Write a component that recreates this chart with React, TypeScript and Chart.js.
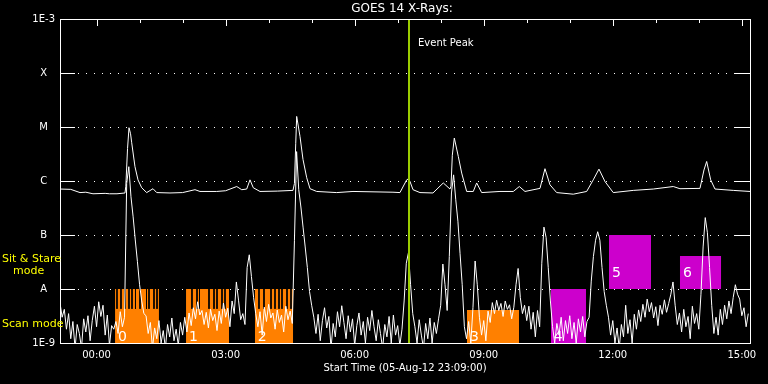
import React, { useEffect, useRef } from "react";
import { Chart, registerables } from "chart.js";

Chart.register(...registerables);

// ---------- text ----------
const chartTitle = "GOES 14 X-Rays:";
const xAxisTitle = "Start Time (05-Aug-12 23:09:00)";
const eventPeakLabel = "Event Peak";
const sitStareLines = ["Sit & Stare", "mode"];
const scanModeLabel = "Scan mode";

// ---------- axes ----------
const xMinHour = -0.85; // 23:09 on 05-Aug
const xMaxHour = 15.19;
const xTickHours = [0, 3, 6, 9, 12, 15];
const xTickLabels = ["00:00", "03:00", "06:00", "09:00", "12:00", "15:00"];
const xMinorTickHours = [0, 1, 2, 3, 4, 5, 6, 7, 8, 9, 10, 11, 12, 13, 14, 15];
const yTickValues = [1e-9, 1e-8, 1e-7, 1e-6, 1e-5, 1e-4, 1e-3];
const yTickLabels = ["1E-9", "A", "B", "C", "M", "X", "1E-3"];

const eventPeakHour = 7.263;

// ---------- 1-8 A channel (W/m^2) ----------
const longHours = [
  -0.85, -0.6, -0.385, -0.25, -0.083, 0.2, 0.3, 0.475, 0.661, 0.68,
  0.72, 0.754, 0.79, 0.817, 0.893, 0.963, 1.049, 1.165, 1.312, 1.398,
  1.707, 2.0, 2.288, 2.404, 2.793, 3.0, 3.258, 3.374, 3.49, 3.567,
  3.643, 3.799, 4.2, 4.566, 4.6, 4.63, 4.652, 4.729, 4.799, 4.885,
  4.962, 5.117, 5.582, 5.961, 6.891, 7.053, 7.209, 7.246, 7.286, 7.356,
  7.518, 7.82, 8.06, 8.216, 8.24, 8.27, 8.316, 8.409, 8.488, 8.604,
  8.757, 8.836, 8.952, 9.378, 9.687, 9.827, 9.959, 10.308, 10.424, 10.54,
  10.696, 11.082, 11.393, 11.546, 11.679, 11.818, 12.011, 12.476, 12.941, 13.406,
  13.562, 14.027, 14.12, 14.183, 14.276, 14.376, 14.801, 15.19,
];
const longFlux = [
  7.1e-7, 7.0e-7, 6.1e-7, 6.2e-7, 5.8e-7, 5.9e-7, 5.8e-7, 5.8e-7, 6.0e-7, 8.0e-7,
  4.0e-6, 9.7e-6, 7.5e-6, 5.1e-6, 1.84e-6, 1.05e-6, 7.5e-7, 6.1e-7, 7.2e-7, 6.1e-7,
  6.0e-7, 6.1e-7, 6.9e-7, 6.4e-7, 6.4e-7, 6.6e-7, 7.9e-7, 6.9e-7, 7.1e-7, 1.05e-6,
  7.5e-7, 6.4e-7, 6.5e-7, 6.7e-7, 9.0e-7, 5.0e-6, 1.57e-5, 6.7e-6, 2.5e-6, 1.15e-6,
  7.2e-7, 6.4e-7, 6.1e-7, 6.4e-7, 6.2e-7, 6.1e-7, 1.05e-6, 1.09e-6, 9.8e-7, 6.9e-7,
  6.1e-7, 6.0e-7, 9.2e-7, 7.1e-7, 8.0e-7, 3.0e-6, 6.25e-6, 2.85e-6, 1.4e-6, 6.4e-7,
  6.4e-7, 9.2e-7, 6.1e-7, 6.4e-7, 6.4e-7, 7.9e-7, 6.4e-7, 7.3e-7, 1.69e-6, 8.5e-7,
  6.1e-7, 5.7e-7, 6.4e-7, 1.05e-6, 1.66e-6, 9.8e-7, 6.1e-7, 6.7e-7, 7.1e-7, 7.9e-7,
  7.2e-7, 7.3e-7, 1.6e-6, 2.3e-6, 1.05e-6, 7.1e-7, 6.7e-7, 6.4e-7,
];

// ---------- 0.5-4 A channel, 3-minute cadence, in nW/m^2 ----------
const shortStartHour = -0.85;
const shortStepHours = 0.05;
const shortFluxNano = [
  5.5, 3.0, 4.2, 1.8, 3.5, 1.2, 2.5, 0.8, 2.2, 1.5,
  0.8, 2.8, 1.6, 3.2, 1.1, 2.6, 4.8, 2.0, 5.8, 3.1,
  5.0, 1.4, 3.3, 0.9, 2.1, 1.8, 2.5, 1.5, 3.8, 2.0,
  3.0, 900, 1840, 510, 217, 81, 32, 12, 6, 3.5,
  3.2, 1.5, 2.4, 0.8, 1.9, 1.2, 2.6, 1.0, 1.7, 0.8,
  2.2, 1.3, 2.9, 1.1, 1.8, 0.9, 2.4, 1.4, 3.0, 1.6,
  3.6, 2.1, 4.5, 2.8, 5.8, 3.3, 4.0, 2.2, 3.7, 1.9,
  4.2, 2.6, 3.4, 1.7, 3.9, 2.3, 5.5, 3.0, 4.4, 2.0,
  6.0, 3.5, 13.5, 6.2, 2.7, 3.5, 2.2, 25, 43, 17,
  7, 3.5, 2.0, 3.8, 1.4, 4.6, 2.5, 5.2, 2.9, 3.6,
  1.8, 4.1, 2.4, 3.3, 1.6, 4.8, 2.7, 3.9, 2.3, 80,
  3500, 690, 330, 140, 60, 25, 9, 5, 3, 1.5,
  3.4, 1.1, 2.6, 4.5, 1.9, 3.1, 0.8, 2.3, 1.3, 3.8,
  2.0, 4.9, 2.4, 1.2, 3.2, 1.6, 2.8, 0.9, 2.1, 3.6,
  1.4, 2.5, 1.0, 3.0, 1.7, 4.0, 2.0, 1.1, 2.7, 1.5,
  0.8, 2.2, 1.3, 3.1, 1.0, 3.3, 1.4, 2.1, 0.9, 1.8,
  6, 30, 47, 12, 3.5, 2.0, 1.0, 2.7, 1.4, 0.8,
  2.3, 1.2, 2.9, 1.0, 2.4, 1.5, 2.8, 5, 29, 12,
  4, 40, 600, 1300, 450, 180, 45, 12, 2, 1.2,
  2.5, 1.0, 4.5, 33, 12, 3.0, 1.4, 2.6, 1.1, 3.9,
  2.4, 5.6, 3.5, 6.2, 4.0, 5.4, 3.1, 6.0, 4.2, 5.1,
  2.8, 4.6, 12, 24, 7, 3.5, 5.0, 2.6, 4.8, 1.8,
  3.7, 1.3, 4.0, 2.0, 30, 140, 90, 25, 6, 2.0,
  1.0, 2.3, 1.4, 3.0, 1.1, 2.6, 1.5, 3.2, 1.2, 2.4,
  1.0, 2.8, 1.6, 3.1, 1.3, 2.5, 3, 14, 40, 80,
  115, 80, 25, 9, 5, 3, 1.4, 2.6, 1.0, 1.9,
  0.8, 2.2, 1.3, 5.0, 1.5, 2.7, 1.0, 3.4, 1.8, 4.1,
  2.5, 5.2, 3.0, 6.5, 3.8, 5.6, 2.9, 4.7, 2.1, 5.0,
  3.4, 6.3, 3.7, 5.4, 8, 13.5, 5, 2.2, 3.6, 1.6,
  4.2, 2.0, 3.1, 1.2, 4.8, 2.3, 3.5, 1.8, 8, 60,
  210, 110, 25, 5, 1.5, 3.0, 1.4, 4.2, 2.2, 5.0,
  2.8, 6.0, 3.5, 7, 12, 8, 6.5, 3.2, 4.5, 2.0,
  3.5,
];

// ---------- observing-mode blocks ----------
const blockStartHours = [0.43, 2.08, 3.68, 8.61, 10.56, 11.91, 13.56];
const blockEndHours = [1.45, 3.08, 4.57, 9.82, 11.38, 12.89, 14.52];
const blockBottoms = [1e-9, 1e-9, 1e-9, 1e-9, 1e-9, 1e-8, 1e-8];
const blockTops = [1e-8, 1e-8, 1e-8, 4.1e-9, 1e-8, 1e-7, 4.1e-8];
const blockColors = ["#ff8000", "#ff8000", "#ff8000", "#ff8000", "#cc00cc", "#cc00cc", "#cc00cc"];
const blockLabels = ["0", "1", "2", "3", "4", "5", "6"];

// scan stripes inside the scan-mode blocks
const stripeHours = [
  0.475, 0.568, 0.661, 0.754, 0.824, 0.905, 1.01, 1.161, 1.219, 1.335, 1.405,
  2.218, 2.335, 2.393, 2.614, 2.73, 2.8, 2.916, 2.986,
  3.776, 3.892, 4.055, 4.148, 4.241, 4.311, 4.427, 4.52,
];
const stripeTop = 1e-8;
const stripeBottom = 4.3e-9;

const FONT = "'DejaVu Sans', 'Liberation Sans', sans-serif";
const EVENT_COLOR = "#9bcd00";

const decorPlugin = {
  id: "decor",
  beforeDatasetsDraw(chart: any) {
    const { ctx, chartArea: a, scales } = chart;
    const ys = scales.y;
    ctx.save();
    ctx.strokeStyle = "#ffffff";
    ctx.lineWidth = 1;
    for (let i = 1; i < yTickValues.length - 1; i++) {
      const py = Math.round(ys.getPixelForValue(yTickValues[i])) + 0.5;
      ctx.setLineDash([]);
      ctx.beginPath();
      ctx.moveTo(a.left, py);
      ctx.lineTo(a.left + 15, py);
      ctx.moveTo(a.right - 15, py);
      ctx.lineTo(a.right, py);
      ctx.stroke();
      ctx.setLineDash([1, 7]);
      ctx.beginPath();
      ctx.moveTo(a.left + 18, py);
      ctx.lineTo(a.right - 15, py);
      ctx.stroke();
    }
    ctx.restore();
  },
  afterDatasetsDraw(chart: any) {
    const { ctx, chartArea: a, scales } = chart;
    const xs = scales.x;
    const ys = scales.y;
    ctx.save();
    // frame
    ctx.strokeStyle = "#ffffff";
    ctx.lineWidth = 1;
    ctx.setLineDash([]);
    ctx.strokeRect(Math.round(a.left) + 0.5, Math.round(a.top) + 0.5,
      Math.round(a.right) - Math.round(a.left), Math.round(a.bottom) - Math.round(a.top));
    // hour ticks on the top axis
    ctx.beginPath();
    for (const h of xMinorTickHours) {
      const px = Math.round(xs.getPixelForValue(h)) + 0.5;
      const len = h % 3 === 0 ? 7 : 4;
      ctx.moveTo(px, a.top);
      ctx.lineTo(px, a.top + len);
    }
    ctx.stroke();

    // block labels
    ctx.fillStyle = "#ffffff";
    ctx.font = `14px ${FONT}`;
    ctx.textAlign = "left";
    ctx.textBaseline = "alphabetic";
    for (let i = 0; i < blockLabels.length; i++) {
      const bx = xs.getPixelForValue(blockStartHours[i]);
      const by = ys.getPixelForValue(blockBottoms[i]);
      const base = blockBottoms[i] <= yTickValues[0] ? by - 2 : by - 12;
      ctx.fillText(blockLabels[i], bx + 3, base);
    }

    // title
    ctx.font = `12px ${FONT}`;
    ctx.textAlign = "center";
    ctx.textBaseline = "middle";
    ctx.fillText(chartTitle, (a.left + a.right) / 2 - 3, 9);

    // event peak label
    ctx.font = `10px ${FONT}`;
    ctx.textAlign = "left";
    ctx.fillText(eventPeakLabel, xs.getPixelForValue(eventPeakHour) + 9, 43);

    // mode labels
    ctx.fillStyle = "#ffff00";
    ctx.font = `11px ${FONT}`;
    ctx.fillText(sitStareLines[0], 2, 259);
    ctx.fillText(sitStareLines[1], 13, 271);
    ctx.fillText(scanModeLabel, 2, 324);
    ctx.restore();
  },
};

export default function App() {
  const ref = useRef<HTMLCanvasElement>(null);

  useEffect(() => {
    const canvas = ref.current;
    if (!canvas) return;

    const longData = longHours.map((h, i) => ({ x: h, y: longFlux[i] }));
    const shortData = shortFluxNano.map((v, i) => ({
      x: shortStartHour + i * shortStepHours,
      y: v * 1e-9,
    }));
    const stripeData: any[] = [];
    stripeHours.forEach((h) => {
      stripeData.push({ x: h, y: stripeTop }, { x: h, y: stripeBottom }, { x: h, y: null });
    });

    const blockSets = blockLabels.map((lab, i) => ({
      label: "block " + lab,
      data: [
        { x: blockStartHours[i], y: blockTops[i] },
        { x: blockEndHours[i], y: blockTops[i] },
      ],
      borderWidth: 0,
      borderColor: "rgba(0,0,0,0)",
      backgroundColor: blockColors[i],
      pointRadius: 0,
      fill: { value: blockBottoms[i] },
    }));

    const chart = new Chart(canvas, {
      type: "line",
      data: {
        datasets: [
          {
            label: "event",
            data: [
              { x: eventPeakHour, y: yTickValues[0] },
              { x: eventPeakHour, y: yTickValues[yTickValues.length - 1] },
            ],
            borderColor: EVENT_COLOR,
            borderWidth: 2,
            pointRadius: 0,
            fill: false,
          },
          {
            label: "long",
            data: longData,
            borderColor: "#ffffff",
            borderWidth: 1,
            pointRadius: 0,
            fill: false,
            tension: 0,
          },
          {
            label: "short",
            data: shortData,
            borderColor: "#ffffff",
            borderWidth: 1,
            pointRadius: 0,
            fill: false,
            tension: 0,
          },
          {
            label: "stripes",
            data: stripeData,
            borderColor: "#000000",
            borderWidth: 1,
            pointRadius: 0,
            fill: false,
            spanGaps: false,
          },
          ...blockSets,
        ] as any,
      },
      options: {
        responsive: false,
        animation: false,
        devicePixelRatio: 1,
        layout: { padding: { top: 19, right: 18, bottom: 0, left: 0 } },
        plugins: {
          legend: { display: false },
          tooltip: { enabled: false },
          title: { display: false },
        },
        scales: {
          x: {
            type: "linear",
            min: xMinHour,
            max: xMaxHour,
            grid: { display: false, drawTicks: false },
            border: { display: false },
            afterBuildTicks: (s: any) => {
              s.ticks = xTickHours.map((v) => ({ value: v }));
            },
            afterFit: (s: any) => {
              s.height = 41;
            },
            ticks: {
              autoSkip: false,
              maxRotation: 0,
              padding: 6,
              color: "#ffffff",
              font: { family: FONT, size: 10 },
              callback: (_v: any, i: number) => xTickLabels[i],
            },
            title: {
              display: true,
              text: xAxisTitle,
              color: "#ffffff",
              font: { family: FONT, size: 10 },
              padding: { top: 0, bottom: 10 },
            },
          },
          y: {
            type: "logarithmic",
            min: yTickValues[0],
            max: yTickValues[yTickValues.length - 1],
            grid: { display: false, drawTicks: false },
            border: { display: false },
            afterBuildTicks: (s: any) => {
              s.ticks = yTickValues.map((v) => ({ value: v }));
            },
            afterFit: (s: any) => {
              s.width = 60;
            },
            ticks: {
              autoSkip: false,
              crossAlign: "center",
              padding: 5,
              color: "#ffffff",
              font: { family: FONT, size: 10 },
              callback: (_v: any, i: number) => yTickLabels[i],
            },
          },
        },
      } as any,
      plugins: [decorPlugin],
    });

    return () => chart.destroy();
  }, []);

  return (
    <div
      style={{
        position: "fixed",
        left: 0,
        top: 0,
        width: 768,
        height: 384,
        background: "#000000",
      }}
    >
      <canvas ref={ref} width={768} height={384} style={{ display: "block", width: 768, height: 384 }} />
    </div>
  );
}
